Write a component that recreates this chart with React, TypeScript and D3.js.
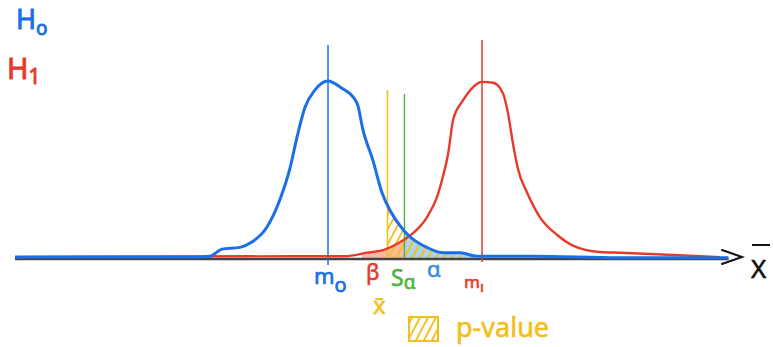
import React from 'react';
import * as d3 from 'd3';

// x in units where m0 = 0 and m1 = 5, y = density relative to peak
const h0Points: [number, number][] = [
  [-10.16, 0.005], [-4.48, 0.005], [-3.83, 0.01], [-3.44, 0.05], [-2.86, 0.06], [-2.47, 0.09],
  [-1.98, 0.175], [-1.56, 0.33], [-1.23, 0.51], [-1.01, 0.68], [-0.75, 0.85], [-0.42, 0.95],
  [0, 1.0], [0.39, 0.966], [0.94, 0.876], [1.14, 0.72], [1.46, 0.55], [1.75, 0.37],
  [2.01, 0.27], [2.44, 0.16], [2.66, 0.12], [3.21, 0.06], [3.73, 0.03], [4.29, 0.03],
  [4.84, 0.01], [6.66, 0.01], [9.48, 0.002], [13.0, 0.002],
];

const h1Points: [number, number][] = [
  [-10.16, 0.005], [-1.23, 0.01], [0.55, 0.01], [1.27, 0.03], [1.79, 0.045], [2.44, 0.1],
  [2.76, 0.14], [3.21, 0.23], [3.54, 0.345], [3.73, 0.46], [3.9, 0.59], [4.06, 0.78],
  [4.38, 0.89], [4.71, 0.966], [5, 0.995], [5.36, 0.99], [5.68, 0.93], [5.84, 0.82],
  [6.0, 0.65], [6.17, 0.5], [6.46, 0.37], [6.88, 0.23], [7.44, 0.13], [7.95, 0.07],
  [8.83, 0.034], [9.48, 0.03], [12.08, 0.01], [12.73, 0.005],
];

const m0 = 0;
const m1 = 5;
const xBar = 1.93;
const sAlpha = 2.48;
const betaStart = 1.1;
const tailEnd = 4.7;

const BLUE = '#1a6fe8';
const RED = '#e8392b';
const YELLOW = '#f2c01c';
const GREEN = '#4cb440';

// slightly thicker strokes so the letters look closer to the pen drawing
const ink = (c: string, w = 0.9) => ({ fill: c, stroke: c, strokeWidth: w, strokeLinejoin: 'round' as const });

const App = () => {
  const x = d3.scaleLinear().domain([-10.16, 13.21]).range([15, 735]);
  const y = d3.scaleLinear().domain([0, 1]).range([258, 81]);

  const line = d3.line<[number, number]>()
    .x(d => x(d[0]))
    .y(d => y(d[1]))
    .curve(d3.curveMonotoneX);

  const area = d3.area<[number, number]>()
    .x(d => x(d[0]))
    .y0(y(0))
    .y1(d => y(d[1]))
    .curve(d3.curveMonotoneX);

  return (
    <svg width={773} height={347} style={{ position: 'absolute', left: 0, top: 0, background: '#fff' }}
      fontFamily="'Noto Sans', sans-serif">
      <defs>
        <pattern id="hatch" width={7} height={7} patternUnits="userSpaceOnUse" patternTransform="rotate(28)">
          <line x1={2} y1={0} x2={2} y2={7} stroke={YELLOW} strokeWidth={1.9} />
        </pattern>
        <clipPath id="clipBeta">
          <rect x={x(betaStart)} y={0} width={x(sAlpha) - x(betaStart)} height={y(0)} />
        </clipPath>
        <clipPath id="clipAlpha">
          <rect x={x(sAlpha)} y={0} width={x(tailEnd) - x(sAlpha)} height={y(0)} />
        </clipPath>
        <clipPath id="clipP">
          <rect x={x(xBar)} y={0} width={x(4.45) - x(xBar)} height={y(0)} />
        </clipPath>
      </defs>

      {/* shaded areas */}
      <path d={area(h1Points) ?? ''} fill="#f6b9a7" clipPath="url(#clipBeta)" />
      <path d={area(h0Points) ?? ''} fill="#aed3ec" clipPath="url(#clipAlpha)" />
      <path d={area(h0Points) ?? ''} fill="url(#hatch)" clipPath="url(#clipP)" />

      {/* axis */}
      <line x1={x(-10.16)} x2={x(13.0)} y1={y(0) + 1} y2={y(0) + 1} stroke="#444" strokeWidth={2.5} />
      <polyline points={`722,250 742,257 722,264`} fill="none" stroke="#111" strokeWidth={2} strokeLinecap="round" />
      <line x1={752} x2={770} y1={245} y2={245} stroke="#111" strokeWidth={2} />
      <text x={751} y={278} fontSize={26} {...ink('#111', 0.5)}>X</text>

      {/* vertical markers */}
      <line x1={x(m0)} x2={x(m0)} y1={45} y2={265} stroke={BLUE} strokeWidth={1.5} />
      <line x1={x(m1)} x2={x(m1)} y1={40} y2={262} stroke={RED} strokeWidth={1.5} />
      <line x1={x(xBar)} x2={x(xBar)} y1={90} y2={258} stroke={YELLOW} strokeWidth={1.6} />
      <line x1={x(sAlpha)} x2={x(sAlpha)} y1={94} y2={258} stroke={GREEN} strokeWidth={1.4} />

      {/* curves */}
      <path d={line(h1Points) ?? ''} fill="none" stroke={RED} strokeWidth={2.4} />
      <path d={line(h0Points) ?? ''} fill="none" stroke={BLUE} strokeWidth={3} />

      {/* hypotheses */}
      <text x={16} y={29} fontSize={27} {...ink(BLUE)}>H<tspan fontSize={19} dy={6}>o</tspan></text>
      <text x={7} y={79} fontSize={29} {...ink(RED)}>H<tspan fontSize={21} dy={5}>1</tspan></text>

      {/* axis labels */}
      <text x={x(m0) - 14} y={284} fontSize={22} {...ink(BLUE, 0.7)}>m<tspan fontSize={20} dy={8}>o</tspan></text>
      <text x={x(m1) - 18} y={288} fontSize={17} {...ink(RED, 0.6)}>m<tspan fontSize={15} dy={4}>ı</tspan></text>
      <text x={366} y={280} fontSize={22} {...ink(RED, 0.6)}>β</text>
      <text x={391} y={286} fontSize={23} {...ink(GREEN, 0.6)}>S<tspan fontSize={19} dy={3}>α</tspan></text>
      <text x={427} y={277} fontSize={22} {...ink('#3a8ed8', 0.6)}>α</text>
      <text x={373} y={314} fontSize={24} {...ink(YELLOW, 0.5)}>x̄</text>

      {/* legend */}
      <rect x={409} y={317} width={29} height={24} fill="url(#hatch)" stroke={YELLOW} strokeWidth={2} />
      <text x={456} y={337} fontSize={27} {...ink(YELLOW, 0.6)}>p-value</text>
    </svg>
  );
};

export default App;
